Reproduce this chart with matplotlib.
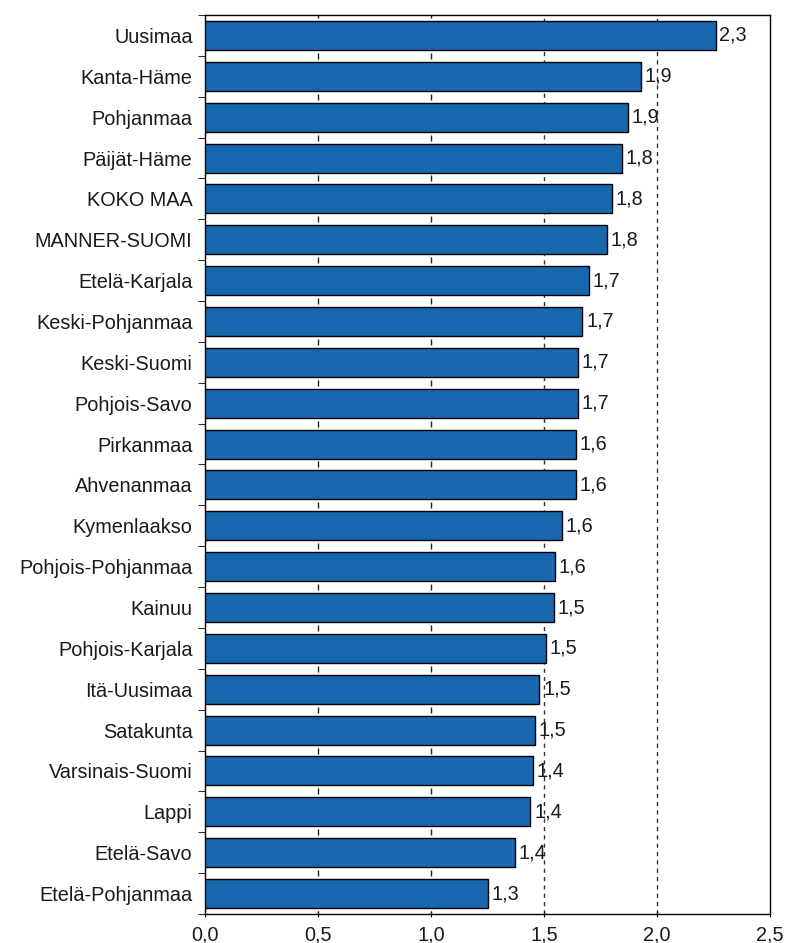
import matplotlib.pyplot as plt
import numpy as np

plt.rcParams['font.family'] = ['Liberation Sans', 'DejaVu Sans']

# alueet ylhäältä alas
alueet = ['Uusimaa', 'Kanta-Häme', 'Pohjanmaa', 'Päijät-Häme', 'KOKO MAA',
          'MANNER-SUOMI', 'Etelä-Karjala', 'Keski-Pohjanmaa', 'Keski-Suomi',
          'Pohjois-Savo', 'Pirkanmaa', 'Ahvenanmaa', 'Kymenlaakso',
          'Pohjois-Pohjanmaa', 'Kainuu', 'Pohjois-Karjala', 'Itä-Uusimaa',
          'Satakunta', 'Varsinais-Suomi', 'Lappi', 'Etelä-Savo', 'Etelä-Pohjanmaa']
arvot = [2.26, 1.93, 1.87, 1.845, 1.80, 1.78, 1.70, 1.67, 1.65, 1.65, 1.64,
         1.64, 1.58, 1.55, 1.545, 1.51, 1.48, 1.46, 1.45, 1.44, 1.37, 1.25]
arvo_tekstit = ['2,3', '1,9', '1,9', '1,8', '1,8', '1,8', '1,7', '1,7', '1,7',
                '1,7', '1,6', '1,6', '1,6', '1,6', '1,5', '1,5', '1,5', '1,5',
                '1,4', '1,4', '1,4', '1,3']
x_tikit = [0.0, 0.5, 1.0, 1.5, 2.0, 2.5]
x_tekstit = ['0,0', '0,5', '1,0', '1,5', '2,0', '2,5']

fs = 14.3
fig = plt.figure(figsize=(7.85, 9.43), dpi=100)
ax = fig.add_axes([205 / 785, 29 / 943, 565 / 785, 899 / 943])

n = len(alueet)
y = np.arange(n)[::-1]
ax.barh(y, arvot, height=0.71, color='#1868B0', edgecolor='black',
        linewidth=1.0, zorder=3)
for yi, v, t in zip(y, arvot, arvo_tekstit):
    ax.text(v + 0.016, yi, t, va='center', ha='left', fontsize=fs, color='#1a1a1a', zorder=4)

# katkoviivat 1,5 ja 2,0 kohdalla
for xv in [1.5, 2.0]:
    ax.axvline(xv, color='#333333', linestyle=(0, (3, 3)), linewidth=1.0, zorder=1)

# pienet merkit rivien välissä (Excelin ruudukko)
rajat = np.arange(n + 1) - 0.5
for xv in [0.5, 1.0]:
    ax.plot([xv] * len(rajat), rajat, linestyle='none', marker='|',
            markersize=5, color='#222222', zorder=2, clip_on=True)

ax.set_xlim(0, 2.5)
ax.set_ylim(-0.5, n - 0.5)
ax.set_xticks(x_tikit)
ax.set_xticklabels(x_tekstit, fontsize=fs, color='#1a1a1a')
ax.set_yticks(y)
ax.set_yticklabels(alueet, fontsize=fs, color='#1a1a1a')
ax.set_yticks(rajat, minor=True)
ax.tick_params(axis='y', which='major', length=0, pad=9)
ax.tick_params(axis='y', which='minor', length=5, direction='out')
ax.tick_params(axis='x', which='major', length=5, direction='inout', pad=6)
for s in ax.spines.values():
    s.set_linewidth(1.0)

plt.savefig('out.png', dpi=100)
